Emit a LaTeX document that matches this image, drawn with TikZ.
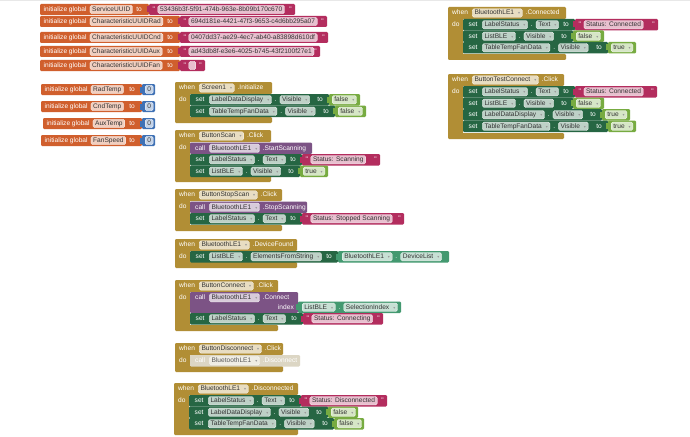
\documentclass[tikz,border=0pt]{standalone}
\usepackage{fontspec}
\newfontfamily\blkfont{Liberation Sans}
\newfontfamily\symfont{DejaVu Sans}
\usetikzlibrary{positioning}
\definecolor{varc}{HTML}{D05F2D}
\definecolor{txtc}{HTML}{B32D5E}
\definecolor{numc}{HTML}{3F71B5}
\definecolor{evc}{HTML}{B18E35}
\definecolor{setc}{HTML}{266643}
\definecolor{logc}{HTML}{77AB41}
\definecolor{callc}{HTML}{7C5385}
\definecolor{getc}{HTML}{439970}
\definecolor{disc}{HTML}{DCD6C4}
\newcommand{\blksize}{\blkfont\fontsize{6.6}{7}\selectfont}
\newcommand{\dd}{\hspace{4pt}{\symfont\fontsize{4}{4}\selectfont\color{black!40}▾}}
\newcommand{\bh}{11.5}
\tikzset{
  lbl/.style={text=white, font=\blksize, inner sep=0pt, anchor=west, text height=4.8pt, text depth=1.3pt},
  pill/.style={fill=#1!30!white, draw=white, line width=0.25pt, rounded corners=1.5pt, text=black!80,
    font=\blksize, inner xsep=2.2pt, inner ysep=1.1pt, text height=4.8pt, text depth=1.3pt, anchor=west},
  blk/.style={fill=#1, rounded corners=1.2pt},
}
% event block: name, left, top, right, bottom, component, event
\newcommand{\evt}[7]{%
  \fill[blk=evc] (#2,#3) rectangle (#4,#3+12) (#2,#3) rectangle (#2+15,#5) (#2,#5-6) rectangle (#4,#5);
  \node[lbl] (#1-when) at (#2+4,#3+6) {when};
  \node[pill=evc, right=4pt of #1-when] (#1-cmp) {#6\dd};
  \node[lbl, right=3pt of #1-cmp] (#1-ev) {.#7};
  \node[lbl] (#1-do) at (#2+4,#3+17.75) {do};
}
% initialize global: name, left, top, variable, right
\newcommand{\initvar}[5]{%
  \fill[blk=varc] (#2,#3) rectangle (#5,#3+\bh);
  \node[lbl] (#1-ini) at (#2+3.5,#3+\bh/2) {initialize global};
  \node[pill=varc, right=3pt of #1-ini] (#1-var) {#4};
  \node[lbl, anchor=east] (#1-to) at (#5-7,#3+\bh/2) {to};
}
% set row: name, left, top, component, property, right
\newcommand{\setrow}[6]{%
  \fill[blk=setc] (#2,#3) rectangle (#6,#3+\bh);
  \node[lbl] (#1-set) at (#2+5.5,#3+\bh/2) {set};
  \node[pill=setc, right=4.5pt of #1-set] (#1-cmp) {#4\dd};
  \node[lbl, right=3pt of #1-cmp] (#1-dot) {.};
  \node[pill=setc, right=3pt of #1-dot] (#1-prp) {#5\dd};
  \node[lbl, anchor=east] (#1-to) at (#6-6,#3+\bh/2) {to};
}
% call row: name, left, top, method, right
\newcommand{\callrow}[5]{%
  \fill[blk=callc] (#2,#3) rectangle (#5,#3+\bh);
  \node[lbl] (#1-call) at (#2+5,#3+\bh/2) {call};
  \node[pill=callc, right=4pt of #1-call] (#1-cmp) {BluetoothLE1\dd};
  \node[lbl, right=3pt of #1-cmp] (#1-mth) {.#4};
}
% values: name, left, top, text, right
\newcommand{\textval}[5]{%
  \fill[txtc] (#2-2.5,#3+2.5) rectangle (#2+1,#3+8.5);
  \fill[blk=txtc] (#2,#3) rectangle (#5,#3+\bh);
  \node[lbl] (#1-q1) at (#2+3.5,#3+\bh/2) {"};
  \node[pill=txtc, right=2.5pt of #1-q1] (#1-str) {#4};
  \node[lbl, anchor=east] (#1-q2) at (#5-3,#3+\bh/2) {"};
}
\newcommand{\boolval}[5]{%
  \fill[logc] (#2-2.5,#3+2.5) rectangle (#2+1,#3+8.5);
  \fill[blk=logc] (#2,#3) rectangle (#5,#3+\bh);
  \node[pill=logc] (#1-val) at (#2+3,#3+\bh/2) {#4\dd};
}
\newcommand{\numval}[5]{%
  \fill[numc] (#2-2.5,#3+2.5) rectangle (#2+1,#3+8.5);
  \fill[blk=numc] (#2,#3) rectangle (#5,#3+\bh);
  \node[pill=numc] (#1-val) at (#2+3,#3+\bh/2) {#4};
}
% getter: name, left, top, component, property, right
\newcommand{\getval}[6]{%
  \fill[getc] (#2-2.5,#3+2.5) rectangle (#2+1,#3+8.5);
  \fill[blk=getc] (#2,#3) rectangle (#6,#3+\bh);
  \node[pill=getc] (#1-cmp) at (#2+4,#3+\bh/2) {#4\dd};
  \node[lbl, right=3pt of #1-cmp] (#1-dot) {.};
  \node[pill=getc, right=3pt of #1-dot] (#1-prp) {#5\dd};
}

\begin{document}
\begin{tikzpicture}[x=1pt, y=-1pt]
  \useasboundingbox (0,0) rectangle (690,436);
  \fill[white] (0,0) rectangle (690,436);
  \fill[gray!18] (0,0) rectangle (690,1.3);

  % global variables
  \begin{scope}
    \renewcommand{\bh}{11}
    \foreach \i/\nm/\vy/\vo/\ve/\uid in {
        1/ServiceUUID/4/149/295/53436b3f-5f91-474b-963e-8b09b170c670,
        2/CharacteristicUUIDRad/16/180/327/694d181e-4421-47f3-9653-c4d6bb295a07,
        3/CharacteristicUUIDCnd/32/180/328/0407dd37-ae29-4ec7-ab40-a83898d610df,
        4/CharacteristicUUIDAux/46/180/320/ad43db8f-e3e6-4025-b745-43f2100f27e1,
        5/CharacteristicUUIDFan/60/180/205/{\hspace*{2.5pt}}} {
      \initvar{u\i}{40}{\vy}{\nm}{\vo}
      \textval{u\i v}{\vo}{\vy}{\uid}{\ve}
    }
    \foreach \i/\nm/\vx/\vy in {1/RadTemp/41/84, 2/CndTemp/41/101, 3/AuxTemp/43/118, 4/FanSpeed/41/135} {
      \initvar{t\i}{\vx}{\vy}{\nm}{142}
      \numval{t\i v}{142}{\vy}{0}{155}
    }
  \end{scope}

  % Screen1.Initialize
  \evt{scr}{175}{82}{272}{123}{Screen1}{Initialize}
  \setrow{scr1}{190}{94}{LabelDataDisplay}{Visible}{329}
  \boolval{scr1v}{329}{94}{false}{360}
  \setrow{scr2}{190}{105.5}{TableTempFanData}{Visible}{335}
  \boolval{scr2v}{335}{105.5}{false}{366}

  % ButtonScan.Click
  \evt{scan}{175}{130}{271}{182}{ButtonScan}{Click}
  \callrow{scan1}{190}{142.5}{StartScanning}{312}
  \setrow{scan2}{190}{154}{LabelStatus}{Text}{302}
  \textval{scan2v}{302}{154}{Status: Scanning}{380}
  \setrow{scan3}{190}{165.5}{ListBLE}{Visible}{300}
  \boolval{scan3v}{300}{165.5}{true}{328}

  % ButtonStopScan.Click
  \evt{stop}{175}{189}{282}{231}{ButtonStopScan}{Click}
  \callrow{stop1}{190}{201.5}{StopScanning}{307}
  \setrow{stop2}{190}{213}{LabelStatus}{Text}{302}
  \textval{stop2v}{302}{213}{Status: Stopped Scanning}{404}

  % BluetoothLE1.DeviceFound
  \evt{found}{175}{239}{297}{268}{BluetoothLE1}{DeviceFound}
  \setrow{found1}{190}{251}{ListBLE}{ElementsFromString}{338}
  \getval{found1v}{338}{251}{BluetoothLE1}{DeviceList}{449}

  % ButtonConnect.Click
  \evt{conn}{175}{280}{278}{331}{ButtonConnect}{Click}
  \fill[blk=callc] (190,292) rectangle (298,313);
  \node[lbl] (conn1-call) at (195,297.75) {call};
  \node[pill=callc, right=4pt of conn1-call] (conn1-cmp) {BluetoothLE1\dd};
  \node[lbl, right=3pt of conn1-cmp] (conn1-mth) {.Connect};
  \node[lbl, anchor=east] (conn1-idx) at (294,307.25) {index};
  \getval{conn1v}{298}{301.5}{ListBLE}{SelectionIndex}{401}
  \setrow{conn2}{190}{313}{LabelStatus}{Text}{303}
  \textval{conn2v}{303}{313}{Status: Connecting}{383}

  % ButtonDisconnect.Click (disabled call)
  \evt{disc}{175}{343}{283}{372}{ButtonDisconnect}{Click}
  \fill[blk=disc] (190,355) rectangle (300,366.5);
  \node[lbl] (disc1-call) at (195,360.75) {call};
  \node[pill=disc, fill=white!55!disc, text=black!65, right=4pt of disc1-call] (disc1-cmp) {BluetoothLE1\dd};
  \node[lbl, right=3pt of disc1-cmp] (disc1-mth) {.Disconnect};

  % BluetoothLE1.Disconnected
  \evt{lost}{174}{383}{298}{435}{BluetoothLE1}{Disconnected}
  \setrow{lost1}{189}{395}{LabelStatus}{Text}{301}
  \textval{lost1v}{301}{395}{Status: Disconnected}{387}
  \setrow{lost2}{189}{406.5}{LabelDataDisplay}{Visible}{328}
  \boolval{lost2v}{328}{406.5}{false}{358}
  \setrow{lost3}{189}{418}{TableTempFanData}{Visible}{334}
  \boolval{lost3v}{334}{418}{false}{364}

  % BluetoothLE1.Connected
  \evt{ok}{448}{7}{566}{60}{BluetoothLE1}{Connected}
  \setrow{ok1}{463}{19}{LabelStatus}{Text}{575}
  \textval{ok1v}{575}{19}{Status: Connected}{658}
  \setrow{ok2}{463}{30.5}{ListBLE}{Visible}{573}
  \boolval{ok2v}{573}{30.5}{false}{604}
  \setrow{ok3}{463}{42}{TableTempFanData}{Visible}{608}
  \boolval{ok3v}{608}{42}{true}{636}

  % ButtonTestConnect.Click
  \evt{test}{448}{74}{564}{139}{ButtonTestConnect}{Click}
  \setrow{test1}{463}{86}{LabelStatus}{Text}{575}
  \textval{test1v}{575}{86}{Status: Connected}{657}
  \setrow{test2}{463}{97.5}{ListBLE}{Visible}{573}
  \boolval{test2v}{573}{97.5}{false}{604}
  \setrow{test3}{463}{109}{LabelDataDisplay}{Visible}{602}
  \boolval{test3v}{602}{109}{true}{630}
  \setrow{test4}{463}{120.5}{TableTempFanData}{Visible}{608}
  \boolval{test4v}{608}{120.5}{true}{636}
\end{tikzpicture}
\end{document}
